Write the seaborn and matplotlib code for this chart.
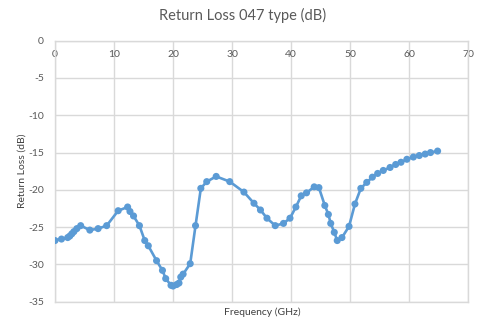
import matplotlib
matplotlib.use("Agg")
import matplotlib.pyplot as plt
import seaborn as sns
import pandas as pd

freq_ghz = [0, 1.1, 2.15, 2.5, 2.85, 3.2, 3.7, 4.35, 5.9, 7.3, 8.75, 10.7, 12.3, 12.7,
            13.3, 14.3, 15.2, 15.8, 17.2, 18.2, 18.75, 19.65, 20.0, 20.6, 21.0, 21.3,
            21.7, 22.9, 23.8, 24.7, 25.7, 27.3, 29.6, 32.0, 33.7, 34.8, 35.9, 37.3,
            38.7, 39.8, 40.8, 41.7, 42.6, 43.9, 44.7, 45.7, 46.3, 46.7, 47.3, 47.8,
            48.6, 49.8, 50.8, 51.8, 52.8, 53.75, 54.65, 55.6, 56.75, 57.7, 58.6, 59.6,
            60.7, 61.7, 62.7, 63.6, 64.8]
return_loss_db = [-26.8, -26.6, -26.4, -26.2, -25.9, -25.6, -25.2, -24.8, -25.4, -25.2,
                  -24.8, -22.8, -22.3, -22.9, -23.5, -24.8, -26.8, -27.5, -29.5, -30.8,
                  -31.9, -32.8, -32.9, -32.7, -32.5, -31.7, -31.3, -29.9, -24.8, -19.8,
                  -18.9, -18.2, -18.9, -20.3, -21.8, -22.7, -23.8, -24.8, -24.5, -23.8,
                  -22.3, -20.8, -20.4, -19.6, -19.7, -22.1, -23.3, -24.5, -25.7, -26.8,
                  -26.4, -24.9, -21.9, -19.8, -19.0, -18.3, -17.8, -17.4, -17.0, -16.6,
                  -16.3, -15.9, -15.6, -15.4, -15.2, -15.0, -14.8]
x_ticks = [0, 10, 20, 30, 40, 50, 60, 70]
y_ticks = [0, -5, -10, -15, -20, -25, -30, -35]

title = "Return Loss 047 type (dB)"
x_label = "Frequency (GHz)"
y_label = "Return Loss (dB)"

df = pd.DataFrame({"freq": freq_ghz, "rl": return_loss_db})

sns.set_theme(style="white")
plt.rcParams["font.family"] = ["Lato", "DejaVu Sans"]

color = "#5b9bd5"
grid_c = "#d9d9d9"
text_c = "#595959"

fig = plt.figure(figsize=(4.85, 3.29), dpi=100)
ax = fig.add_axes([55 / 485, 1 - 301.7 / 329, (468.3 - 55) / 485, (301.7 - 40.7) / 329])

sns.lineplot(data=df, x="freq", y="rl", ax=ax, color=color, linewidth=1.9,
             sort=False, estimator=None)
sns.scatterplot(data=df, x="freq", y="rl", ax=ax, color=color, s=26,
                edgecolor="none", zorder=3)

ax.set_xlim(0, 70)
ax.set_ylim(-35, 0)
ax.set_xticks(x_ticks)
ax.set_yticks(y_ticks)
ax.set_xticklabels([str(t) for t in x_ticks])
ax.set_yticklabels([str(t) for t in y_ticks])
ax.grid(True, color=grid_c, linewidth=1.0)
ax.set_axisbelow(True)
for s in ax.spines.values():
    s.set_color(grid_c)
    s.set_linewidth(1.0)

ax.tick_params(axis="x", top=False, bottom=False, labeltop=True, labelbottom=False,
               pad=-13, labelsize=7.5, labelcolor=text_c, length=0)
ax.tick_params(axis="y", left=False, labelsize=7.5, labelcolor=text_c, pad=8, length=0)

ax.set_xlabel("")
ax.set_ylabel("")
fig.text(262 / 485, 1 - 312 / 329, x_label, ha="center", va="center",
         fontsize=7.5, color="#404040")
fig.text(22 / 485, 1 - 171 / 329, y_label, ha="center", va="center",
         rotation=90, fontsize=7.5, color="#404040")
fig.text(243 / 485, 1 - 15 / 329, title, ha="center", va="center",
         fontsize=10.5, color=text_c)

fig.savefig("out.png", dpi=100)
